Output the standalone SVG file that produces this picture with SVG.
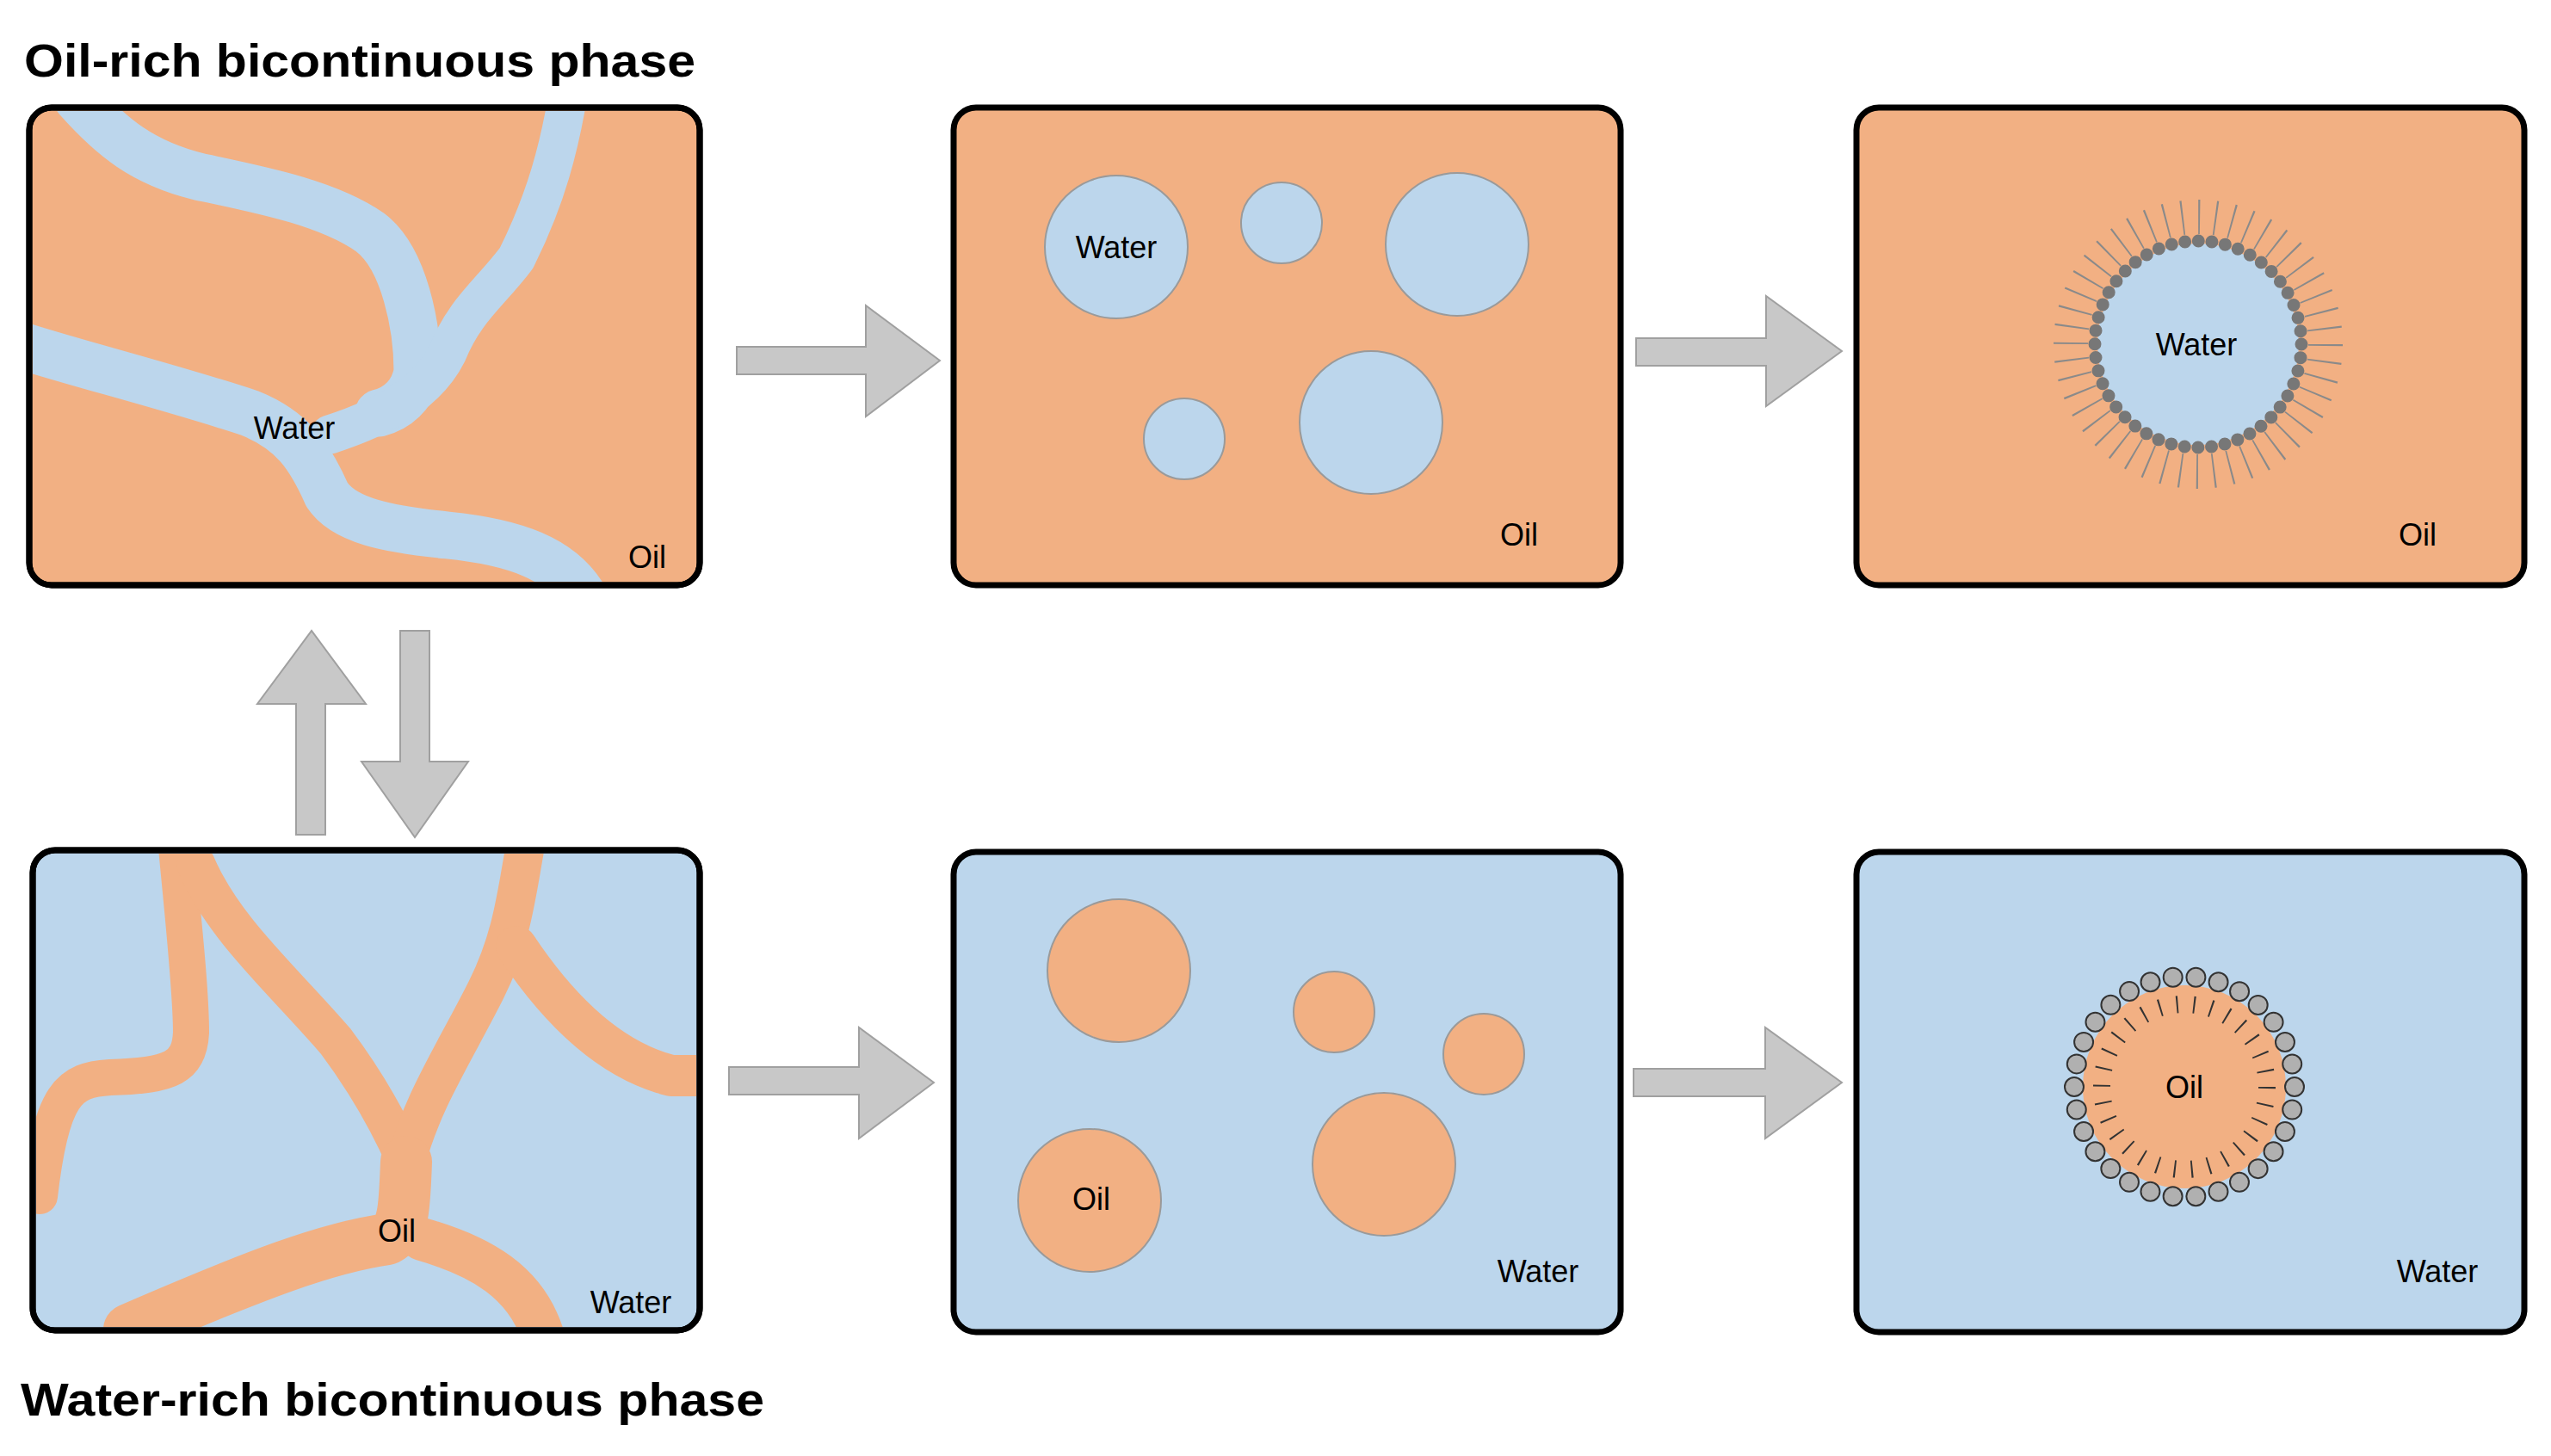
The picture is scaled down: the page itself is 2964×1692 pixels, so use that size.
<svg xmlns="http://www.w3.org/2000/svg" width="2964" height="1692" viewBox="0 0 2964 1692">
<style>
.box{stroke:#000;stroke-width:7}
.oil{fill:#f2b083}
.wat{fill:#bcd6ec}
.bo{fill:#f2b083;stroke:#9a9a9a;stroke-width:2}
.bw{fill:#bcd6ec;stroke:#9a9a9a;stroke-width:2}
.lbl{font-family:"Liberation Sans",Arial,sans-serif;font-size:36px;fill:#000}
.ttl{font-family:"Liberation Sans",Arial,sans-serif;font-size:54px;font-weight:bold;fill:#000}
.arr{fill:#c8c8c8;stroke:#a0a0a0;stroke-width:2}
.chw{fill:none;stroke:#bcd6ec;stroke-linecap:round;stroke-linejoin:round}
.cho{fill:none;stroke:#f2b083;stroke-linecap:round;stroke-linejoin:round}
</style>
<defs>
<clipPath id="c1"><rect x="38" y="129" width="771" height="547" rx="24"/></clipPath>
<clipPath id="c4"><rect x="42" y="992" width="767" height="550" rx="24"/></clipPath>
</defs>
<rect width="2964" height="1692" fill="#fff"/>
<text class="ttl" x="28" y="89" textLength="780" lengthAdjust="spacingAndGlyphs">Oil-rich bicontinuous phase</text>
<text class="ttl" x="24" y="1645" textLength="864" lengthAdjust="spacingAndGlyphs">Water-rich bicontinuous phase</text>

<g id="box1">
<rect class="box oil" x="34" y="125" width="779" height="555" rx="26"/>
<g clip-path="url(#c1)">
<path class="chw" stroke-width="55" d="M90 115 C130 160 166 189 230 205 C300 220 380 235 430 270 C470 300 485 380 485 432 C480 460 460 475 440 480"/>
<path class="chw" stroke-width="45" d="M660 110 C650 170 635 230 600 300 C570 340 540 360 520 410 C500 450 460 480 383 505"/>
<path class="chw" stroke-width="55" d="M20 400 C80 420 200 450 290 480 C340 500 360 530 380 575 C400 605 450 615 520 622 C600 630 650 650 676 690"/>
</g>
<rect class="box" fill="none" x="34" y="125" width="779" height="555" rx="26"/>
<text class="lbl" x="342" y="510" text-anchor="middle">Water</text>
<text class="lbl" x="752" y="660" text-anchor="middle">Oil</text>
</g>

<g id="box2">
<rect class="box oil" x="1108" y="125" width="775" height="555" rx="26"/>
<circle class="bw" cx="1297" cy="287" r="83"/>
<circle class="bw" cx="1489" cy="259" r="47"/>
<circle class="bw" cx="1693" cy="284" r="83"/>
<circle class="bw" cx="1376" cy="510" r="47"/>
<circle class="bw" cx="1593" cy="491" r="83"/>
<text class="lbl" x="1297" y="300" text-anchor="middle">Water</text>
<text class="lbl" x="1765" y="634" text-anchor="middle">Oil</text>
</g>

<g id="box3">
<rect class="box oil" x="2157" y="125" width="776" height="555" rx="26"/>
<circle cx="2554" cy="400" r="148" fill="none" stroke="#8a8a8a" stroke-width="40" stroke-dasharray="2 17.37"/>
<circle cx="2554" cy="400" r="117" class="wat"/>
<circle cx="2554" cy="400" r="120" fill="none" stroke="#777" stroke-width="15" stroke-linecap="round" stroke-dasharray="0 15.71"/>
<text class="lbl" x="2552" y="413" text-anchor="middle">Water</text>
<text class="lbl" x="2809" y="634" text-anchor="middle">Oil</text>
</g>

<g id="box4">
<rect class="box wat" x="38" y="988" width="775" height="558" rx="26"/>
<g clip-path="url(#c4)">
<path class="cho" stroke-width="42" d="M205 985 C212 1060 222 1150 222 1200 C220 1240 200 1250 128 1252 C80 1255 60 1270 46 1390"/>
<path class="cho" stroke-width="45" d="M228 1005 C260 1080 330 1140 390 1210 C420 1250 450 1300 472 1350"/>
<path class="cho" stroke-width="45" d="M610 985 C600 1040 595 1090 565 1150 C530 1220 490 1280 472 1350"/>
<path class="cho" stroke-width="48" d="M600 1100 C640 1160 700 1230 780 1250 L830 1250"/>
<path class="cho" stroke-width="60" d="M472 1350 C470 1400 470 1430 450 1440 C380 1450 300 1480 150 1545"/>
<path class="cho" stroke-width="50" d="M490 1440 C560 1460 610 1490 630 1550"/>
</g>
<rect class="box" fill="none" x="38" y="988" width="775" height="558" rx="26"/>
<text class="lbl" x="461" y="1443" text-anchor="middle">Oil</text>
<text class="lbl" x="733" y="1526" text-anchor="middle">Water</text>
</g>

<g id="box5">
<rect class="box wat" x="1108" y="990" width="775" height="558" rx="26"/>
<circle class="bo" cx="1300" cy="1128" r="83"/>
<circle class="bo" cx="1550" cy="1176" r="47"/>
<circle class="bo" cx="1724" cy="1225" r="47"/>
<circle class="bo" cx="1266" cy="1395" r="83"/>
<circle class="bo" cx="1608" cy="1353" r="83"/>
<text class="lbl" x="1268" y="1406" text-anchor="middle">Oil</text>
<text class="lbl" x="1787" y="1490" text-anchor="middle">Water</text>
</g>

<g id="box6">
<rect class="box wat" x="2157" y="990" width="776" height="558" rx="26"/>
<circle cx="2538" cy="1263" r="118" class="oil"/>
<circle cx="2538" cy="1263" r="96" fill="none" stroke="#333" stroke-width="20" stroke-dasharray="2 18.1"/>
<circle cx="2538" cy="1263" r="128" fill="none" stroke="#333" stroke-width="24" stroke-linecap="round" stroke-dasharray="0 26.8"/>
<circle cx="2538" cy="1263" r="128" fill="none" stroke="#b0b0b0" stroke-width="20" stroke-linecap="round" stroke-dasharray="0 26.8"/>
<text class="lbl" x="2538" y="1276" text-anchor="middle">Oil</text>
<text class="lbl" x="2832" y="1490" text-anchor="middle">Water</text>
</g>

<g id="connectors">
<path class="arr" d="M856 403 H1006 V355 L1092 419 L1006 484 V435 H856 Z"/>
<path class="arr" d="M1901 393 H2052 V344 L2140 408 L2052 472 V425 H1901 Z"/>
<path class="arr" d="M847 1240 H998 V1194 L1085 1258 L998 1323 V1272 H847 Z"/>
<path class="arr" d="M1898 1242 H2051 V1194 L2140 1258 L2051 1323 V1274 H1898 Z"/>
<path class="arr" d="M344 970 V818 H299 L362 733 L425 818 H378 V970 Z"/>
<path class="arr" d="M465 733 V885 H420 L482 973 L544 885 H499 V733 Z"/>
</g>
</svg>
